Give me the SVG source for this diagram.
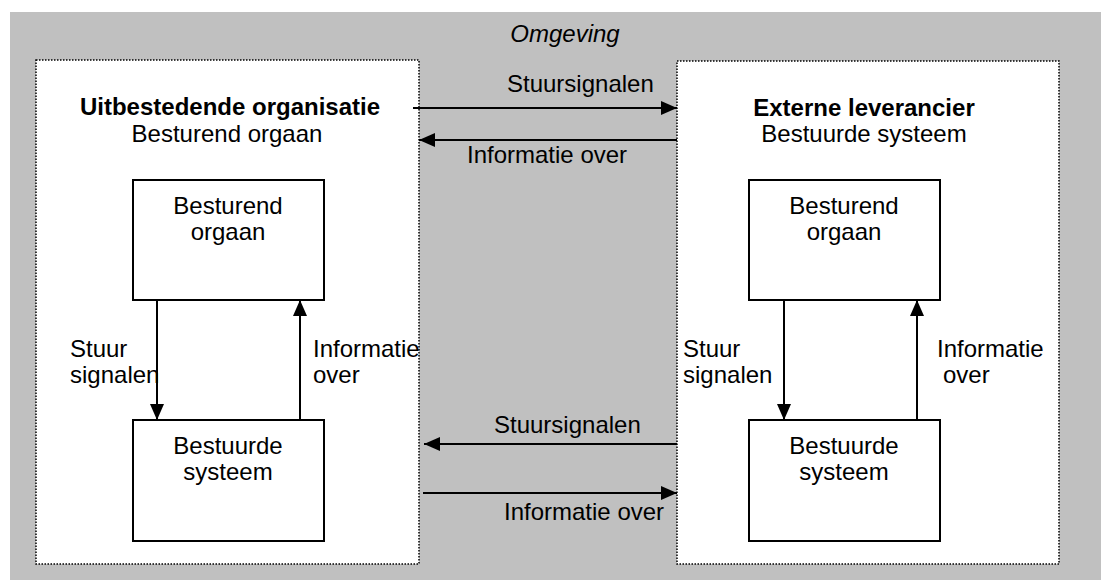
<svg xmlns="http://www.w3.org/2000/svg" width="1101" height="580" viewBox="0 0 1101 580">
  <style>
    text { font-family: "Liberation Sans", Arial, sans-serif; font-size: 24px; fill: #000; }
    .b { font-weight: bold; }
    .i { font-style: italic; }
    .mid { text-anchor: middle; }
    .frame { fill: #fff; stroke: #000; stroke-width: 1.5; stroke-dasharray: 1.5 1.5; }
    .box { fill: #fff; stroke: #000; stroke-width: 2; }
    .wire { stroke: #000; stroke-width: 2; fill: none; marker-end: url(#head); }
  </style>
  <defs>
    <marker id="head" viewBox="0 0 16 14" refX="16" refY="7" markerWidth="16" markerHeight="14" markerUnits="userSpaceOnUse" orient="auto">
      <path d="M0,0 L16,7 L0,14 Z" fill="#000"/>
    </marker>
  </defs>

  <!-- environment -->
  <rect x="10" y="12" width="1091" height="568" fill="#c0c0c0"/>
  <text class="i mid" x="565" y="42">Omgeving</text>

  <!-- outsourcing organisation -->
  <g id="uitbestedende-organisatie">
    <rect class="frame" x="36" y="60" width="383" height="504"/>
    <text class="b mid" x="230" y="115">Uitbestedende organisatie</text>
    <text class="mid" x="227" y="142">Besturend orgaan</text>
  </g>
  <g id="links-besturend-orgaan">
    <rect class="box" x="133" y="180" width="191" height="120"/>
    <text class="mid" x="228" y="214">Besturend</text>
    <text class="mid" x="228" y="240">orgaan</text>
  </g>
  <g id="links-bestuurde-systeem">
    <rect class="box" x="133" y="420" width="191" height="121"/>
    <text class="mid" x="228" y="454">Bestuurde</text>
    <text class="mid" x="228" y="480">systeem</text>
  </g>

  <!-- external supplier -->
  <g id="externe-leverancier">
    <rect class="frame" x="677" y="61" width="382" height="503"/>
    <text class="b mid" x="864" y="116">Externe leverancier</text>
    <text class="mid" x="864" y="142">Bestuurde systeem</text>
  </g>
  <g id="rechts-besturend-orgaan">
    <rect class="box" x="749" y="180" width="191" height="120"/>
    <text class="mid" x="844" y="214">Besturend</text>
    <text class="mid" x="844" y="240">orgaan</text>
  </g>
  <g id="rechts-bestuurde-systeem">
    <rect class="box" x="749" y="420" width="191" height="121"/>
    <text class="mid" x="844" y="454">Bestuurde</text>
    <text class="mid" x="844" y="480">systeem</text>
  </g>

  <!-- control and information flows -->
  <g id="connectors">
    <line class="wire" x1="413" y1="108" x2="677" y2="108"/>
    <text x="507" y="92">Stuursignalen</text>
    <line class="wire" x1="677" y1="140" x2="419" y2="140"/>
    <text x="467" y="163">Informatie over</text>

    <line class="wire" x1="677" y1="444" x2="424" y2="444"/>
    <text x="494" y="433">Stuursignalen</text>
    <line class="wire" x1="423" y1="493" x2="677" y2="493"/>
    <text x="504" y="520">Informatie over</text>

    <line class="wire" x1="157" y1="300" x2="157" y2="420"/>
    <text x="70" y="357">Stuur</text>
    <text x="70" y="383">signalen</text>
    <line class="wire" x1="300" y1="420" x2="300" y2="300"/>
    <text x="313" y="357">Informatie</text>
    <text x="313" y="383">over</text>

    <line class="wire" x1="784" y1="300" x2="784" y2="420"/>
    <text x="683" y="357">Stuur</text>
    <text x="683" y="383">signalen</text>
    <line class="wire" x1="917" y1="420" x2="917" y2="300"/>
    <text x="937" y="357">Informatie</text>
    <text x="943" y="383">over</text>
  </g>
</svg>
